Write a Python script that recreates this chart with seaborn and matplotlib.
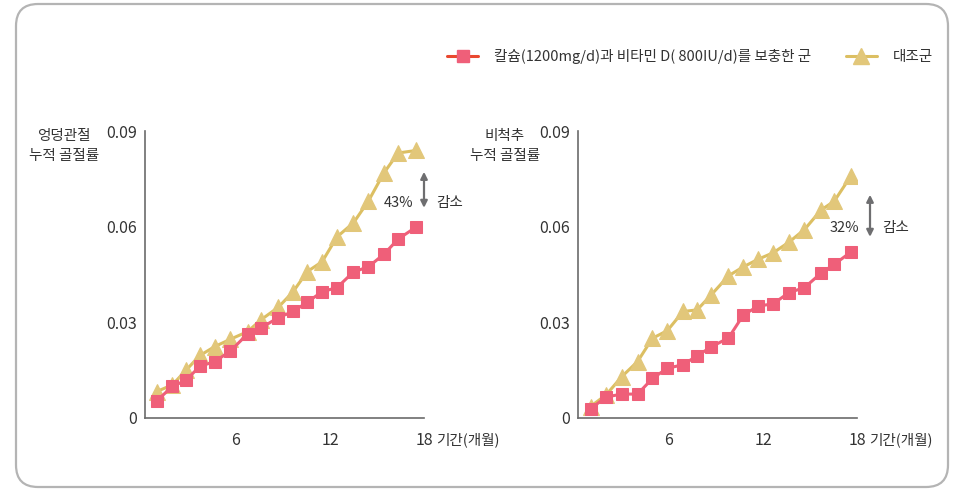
import matplotlib
matplotlib.use('Agg')
import matplotlib.pyplot as plt
import seaborn as sns
from matplotlib.lines import Line2D
from matplotlib.patches import FancyBboxPatch
from matplotlib.transforms import IdentityTransform

# data
hip_months = [0.95, 1.95, 2.8, 3.7, 4.65, 5.65, 6.75, 7.6, 8.7, 9.65, 10.55, 11.5, 12.45, 13.5, 14.45, 15.45, 16.35, 17.5]
hip_ca = [0.0054, 0.0099, 0.0118, 0.0162, 0.0177, 0.0210, 0.0264, 0.0282, 0.0315, 0.0334, 0.0363, 0.0396,
          0.0409, 0.0458, 0.0474, 0.0514, 0.0561, 0.0599]
hip_ctrl = [0.0083, 0.0104, 0.0149, 0.0196, 0.0224, 0.0247, 0.0271, 0.0308, 0.0347, 0.0396, 0.0459, 0.0490,
            0.0568, 0.0612, 0.0680, 0.0769, 0.0831, 0.0839]

spine_months = [1.0, 2.0, 3.0, 4.0, 4.95, 5.9, 6.9, 7.8, 8.7, 9.8, 10.75, 11.7, 12.65, 13.65, 14.65, 15.7, 16.55, 17.6]
spine_ca = [0.0029, 0.0066, 0.0075, 0.0075, 0.0124, 0.0156, 0.0167, 0.0195, 0.0223, 0.0251, 0.0323, 0.0351,
            0.0358, 0.0393, 0.0409, 0.0454, 0.0482, 0.0520]
spine_ctrl = [0.0036, 0.0073, 0.0130, 0.0177, 0.0250, 0.0274, 0.0334, 0.0339, 0.0386, 0.0446, 0.0474, 0.0498,
              0.0518, 0.0551, 0.0591, 0.0652, 0.0680, 0.0758]

x_ticks = [6, 12, 18]
y_ticks = [0, 0.03, 0.06, 0.09]
y_tick_labels = ['0', '0.03', '0.06', '0.09']

ca_label = '칼슘(1200mg/d)과 비타민 D( 800IU/d)를 보충한 군'
ctrl_label = '대조군'

sns.set_style('white')
plt.rcParams['font.family'] = ['Noto Sans CJK KR', 'DejaVu Sans']

pink = '#ef5f79'
gold = '#e2c77a'
gold_line = '#dcbf62'
text_c = '#333333'
axis_c = '#6b6b6b'

fig = plt.figure(figsize=(9.55, 4.91), dpi=100)
ax1 = fig.add_axes([145 / 955, 73 / 491, 279 / 955, 287 / 491])
ax2 = fig.add_axes([578 / 955, 73 / 491, 279 / 955, 287 / 491])

panels = [
    (ax1, hip_months, hip_ca, hip_ctrl, '엉덩관절\n누적 골절률', 64, '43%', (18.0, 0.0772, 0.0659), 0.0674),
    (ax2, spine_months, spine_ca, spine_ctrl, '비척추\n누적 골절률', 505, '32%', (18.83, 0.0700, 0.0568), 0.0596),
]

for ax, months, ca, ctrl, ylab, ylab_x, pct, arrow, txt_y in panels:
    sns.lineplot(x=months, y=ctrl, ax=ax, color=gold_line, lw=2.2, marker='^', markersize=11.5,
                 markerfacecolor=gold, markeredgecolor=gold)
    sns.lineplot(x=months, y=ca, ax=ax, color=pink, lw=2.2, marker='s', markersize=9,
                 markerfacecolor=pink, markeredgecolor=pink)
    ax.set_xlim(0.2, 18)
    ax.set_ylim(0, 0.09)
    ax.set_xticks(x_ticks)
    ax.set_xticklabels([str(t) for t in x_ticks])
    ax.set_yticks(y_ticks)
    ax.set_yticklabels(y_tick_labels)
    ax.tick_params(axis='both', direction='in', length=7, width=1.2, color=axis_c,
                   labelsize=11.5, labelcolor=text_c)
    ax.tick_params(axis='x', pad=10)
    ax.tick_params(axis='y', pad=6)
    for side in ['top', 'right']:
        ax.spines[side].set_visible(False)
    for side in ['left', 'bottom']:
        ax.spines[side].set_color(axis_c)
        ax.spines[side].set_linewidth(1.2)
    ax.annotate('기간(개월)', xy=(1, 0), xycoords='axes fraction', xytext=(9, -16),
                textcoords='offset points', ha='left', va='center', fontsize=10.5, color=text_c)
    fig.text(ylab_x / 955, 1 - 146 / 491, ylab, ha='center', va='center', fontsize=10.5,
             color=text_c, linespacing=1.55)
    ax_x, y_top, y_bot = arrow
    ax.annotate('', xy=(ax_x, y_top), xytext=(ax_x, y_bot), xycoords='data',
                arrowprops=dict(arrowstyle='<|-|>', color='#6e6e70', lw=1.6,
                                mutation_scale=10, shrinkA=0, shrinkB=0),
                annotation_clip=False)
    ax.annotate(pct, xy=(ax_x, txt_y), xycoords='data', xytext=(-8, 0), textcoords='offset points',
                ha='right', va='center', fontsize=10.5, color=text_c, annotation_clip=False)
    ax.annotate('감소', xy=(ax_x, txt_y), xycoords='data', xytext=(9, 0), textcoords='offset points',
                ha='left', va='center', fontsize=10.5, color=text_c, annotation_clip=False)

handles = [
    Line2D([], [], color='#e9482f', lw=2.2, marker='s', markersize=9,
           markerfacecolor=pink, markeredgecolor=pink),
    Line2D([], [], color=gold_line, lw=2.2, marker='^', markersize=11.5,
           markerfacecolor=gold, markeredgecolor=gold),
]
fig.legend(handles, [ca_label, ctrl_label], loc='center right', bbox_to_anchor=(946 / 955, 1 - 57 / 491),
           ncol=2, frameon=False, fontsize=10.5, handlelength=2.1, handletextpad=1.1,
           columnspacing=2.4, labelcolor=text_c)

border = FancyBboxPatch((16, 4), 932, 483, boxstyle='round,pad=0,rounding_size=22',
                        transform=IdentityTransform(), facecolor='none', edgecolor='#b4b4b4', lw=1.6)
fig.patches.append(border)

fig.savefig('out.png', dpi=100)
